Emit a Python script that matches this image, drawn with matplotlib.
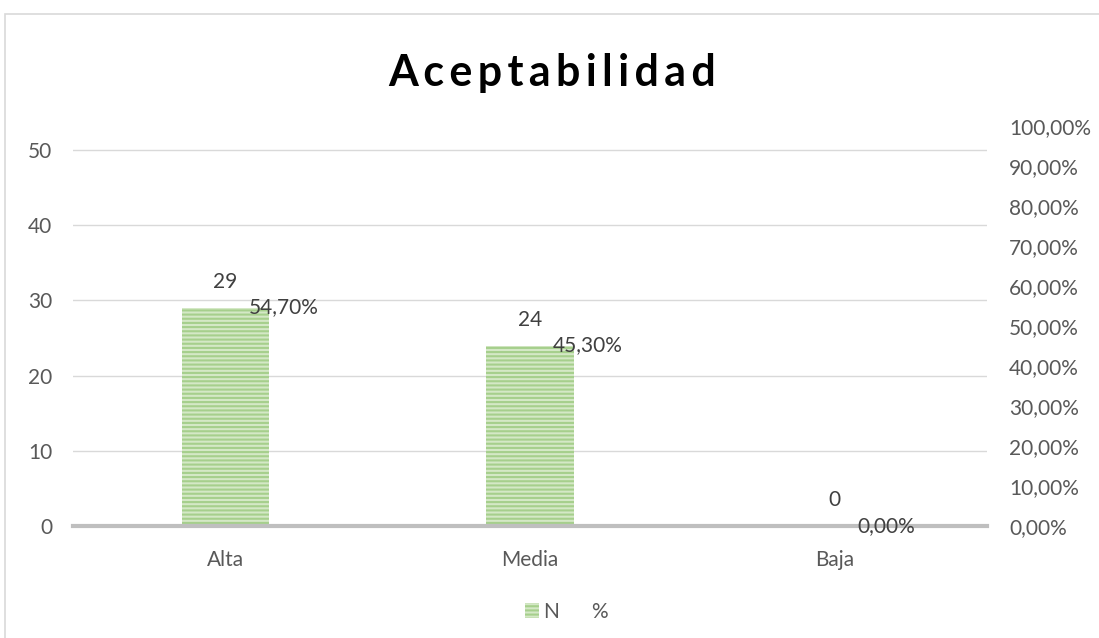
import matplotlib
matplotlib.use("Agg")
import matplotlib.pyplot as plt
from matplotlib.patches import Patch, Rectangle
from matplotlib.ticker import FuncFormatter

# ------- data
categorias = ["Alta", "Media", "Baja"]
n_valores = [29, 24, 0]
porcentajes = [0.547, 0.453, 0.0]
titulo = "Aceptabilidad"

plt.rcParams['font.family'] = ['Lato', 'DejaVu Sans']
plt.rcParams['hatch.linewidth'] = 1.5

texto = '#595959'
etiqueta = '#404040'
verde_fondo = '#d4e8c6'
verde_linea = '#a6cf8c'
tam = 15

fig = plt.figure(figsize=(10.99, 6.38), dpi=100)
ax = fig.add_axes([73 / 1099, 1 - 526 / 638, (987 - 73) / 1099, 400 / 638])
ax2 = ax.twinx()

x = list(range(len(categorias)))
ancho = 0.286

# N bars on the main axis
barras_n = ax.bar(x, n_valores, width=ancho, facecolor=verde_fondo, edgecolor=verde_linea,
                  linewidth=0, hatch='----', zorder=2)
# % bars on the secondary axis, drawn without fill
barras_p = ax2.bar(x, porcentajes, width=ancho, fill=False, linewidth=0)

ax.set_xlim(-0.5, 2.5)
ax.set_ylim(0, 50 * 400 / 376)
ax.set_yticks(range(0, 51, 10))
ax2.set_ylim(0, 1)
ax2.set_yticks([i / 10 for i in range(11)])
ax2.yaxis.set_major_formatter(FuncFormatter(lambda v, p: f"{v * 100:.2f}%".replace('.', ',')))

ax.set_xticks(x)
ax.set_xticklabels(categorias)

for a in (ax, ax2):
    for s in a.spines.values():
        s.set_visible(False)
    a.tick_params(length=0, labelsize=tam, colors=texto)
ax.tick_params(axis='y', pad=15)
ax.tick_params(axis='x', pad=17)
ax2.tick_params(axis='y', pad=16)

ax.grid(axis='y', color='#d9d9d9', linewidth=1, zorder=0)
ax.set_axisbelow(True)
ax.axhline(0, color='#bfbfbf', linewidth=3, zorder=3, clip_on=False)

# value labels
for b, v in zip(barras_n, n_valores):
    ax.annotate(str(v), (b.get_x() + b.get_width() / 2, v), xytext=(0, 26),
                textcoords='offset pixels', ha='center', va='center',
                fontsize=tam, color=etiqueta)
for b, v in zip(barras_p, porcentajes):
    ax2.annotate(f"{v * 100:.2f}%".replace('.', ','), (b.get_x() + b.get_width() / 2, v),
                 xytext=(23, 0), textcoords='offset pixels', ha='left', va='center',
                 fontsize=tam, color=etiqueta)

# title with wide letter spacing
fig.text(552 / 1099, 1 - 73 / 638, '\u2009'.join(titulo), ha='center', va='center',
         fontsize=31, fontweight='bold', color='black')

# legend
h_n = Patch(facecolor=verde_fondo, edgecolor=verde_linea, linewidth=0, hatch='----')
h_p = Patch(facecolor='none', edgecolor='none')
fig.legend([h_n, h_p], ['N', '%'], loc='center', bbox_to_anchor=(566 / 1099, 1 - 612 / 638),
           ncol=2, frameon=False, fontsize=tam, labelcolor=texto,
           handlelength=0.7, handleheight=0.7, handletextpad=0.2, columnspacing=0.6)

# chart border
fig.patches.append(Rectangle((5 / 1099, -0.1), 1.2, 1 - 14.5 / 638 + 0.1, transform=fig.transFigure,
                             fill=False, edgecolor='#d9d9d9', linewidth=1.2))

fig.savefig('out.png', dpi=100)
